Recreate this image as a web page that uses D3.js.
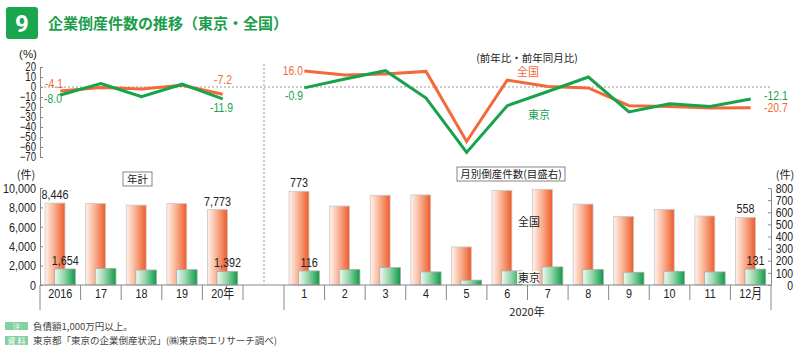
<html>
<head>
<meta charset="utf-8">
<script src="https://d3js.org/d3.v7.min.js"></script>
<style>
body { margin: 0; background: #fff; }
.num { font-family: "Liberation Sans", Arial, "Noto Sans CJK JP", sans-serif; }
.jp { font-family: "Noto Sans CJK JP", sans-serif; }
</style>
</head>
<body>
<div id="chart"></div>
<script>
// annual data
var years = ["2016", "17", "18", "19", "20年"];
var yearNational = [8446, 8405, 8235, 8383, 7773];
var yearTokyo = [1654, 1703, 1546, 1580, 1392];
var yearNationalPct = [-4.1, -0.5, -2.0, 1.8, -7.2];
var yearTokyoPct = [-8.0, 3.5, -9.8, 2.8, -11.9];

// monthly data 2020
var months = ["1", "2", "3", "4", "5", "6", "7", "8", "9", "10", "11", "12月"];
var monthNational = [773, 651, 740, 743, 314, 780, 789, 667, 565, 624, 569, 558];
var monthTokyo = [116, 127, 143, 108, 40, 116, 149, 127, 105, 113, 108, 131];
var monthNationalPct = [16.0, 12.0, 13.0, 15.6, -54.5, 6.8, 0.6, -1.0, -18.7, -19.4, -21.0, -20.7];
var monthTokyoPct = [-0.9, 8.0, 16.3, -11.0, -65.4, -18.7, -4.5, 10.0, -25.0, -16.7, -19.4, -12.1];

var pctTicks = [20, 10, 0, -10, -20, -30, -40, -50, -60, -70];
var yearTicks = [0, 2000, 4000, 6000, 8000, 10000];
var monthTicks = [0, 100, 200, 300, 400, 500, 600, 700, 800];

var green = "#17a24b", orange = "#f26a3b";
var SX = 0.8; // horizontal squeeze for the condensed number font

var svg = d3.select("#chart").append("svg")
    .attr("width", 800).attr("height", 351);

var defs = svg.append("defs");
var gr = defs.append("linearGradient").attr("id", "gradRed");
gr.append("stop").attr("offset", "0%").attr("stop-color", "#fff3ee");
gr.append("stop").attr("offset", "45%").attr("stop-color", "#f9b394");
gr.append("stop").attr("offset", "100%").attr("stop-color", "#ee5b2b");
var gg = defs.append("linearGradient").attr("id", "gradGreen");
gg.append("stop").attr("offset", "0%").attr("stop-color", "#f0f9f3");
gg.append("stop").attr("offset", "45%").attr("stop-color", "#96d6ac");
gg.append("stop").attr("offset", "100%").attr("stop-color", "#0e9a45");

// squeeze a text horizontally, keeping its anchor point
function narrow(sel) {
    sel.each(function() {
        var t = d3.select(this);
        var x = +t.attr("x") || 0;
        t.attr("x", x / SX).attr("transform", "scale(" + SX + ",1)");
    });
}

// title
svg.append("rect").attr("x", 6).attr("y", 7).attr("width", 32).attr("height", 32)
    .attr("rx", 3).attr("fill", "#1aa64f");
svg.append("text").attr("x", 22).attr("y", 32).attr("text-anchor", "middle")
    .attr("font-family", "Roboto, sans-serif").attr("font-weight", "bold")
    .attr("font-size", 24).attr("fill", "#fff").text("9");
svg.append("text").attr("class", "jp").attr("x", 48).attr("y", 29)
    .attr("font-size", 15).attr("font-weight", "bold").attr("fill", "#1a9e4b")
    .text("企業倒産件数の推移（東京・全国）");

// scales
var xYear = d3.scaleBand().domain(years).range([40, 243]);
var xMonth = d3.scaleBand().domain(months).range([284, 771]);
var yPct = d3.scaleLinear().domain([20, -70]).range([67, 157]);
var yYear = d3.scaleLinear().domain([0, 10000]).range([285, 188]);
var yMonth = d3.scaleLinear().domain([0, 800]).range([285, 188]);

function styleAxis(g, anchor, size) {
    g.attr("font-family", null).attr("font-size", null);
    g.selectAll("text").attr("class", "num").attr("font-size", size).attr("fill", "#222")
        .attr("text-anchor", anchor).call(narrow);
    g.selectAll("line, path").attr("stroke", "#888");
}

// ---- top: percent line charts ----
svg.append("text").attr("class", "num").attr("x", 28).attr("y", 58)
    .attr("text-anchor", "middle").attr("font-size", 11.5).attr("fill", "#222").text("(%)");
svg.append("text").attr("class", "jp").attr("x", 527).attr("y", 62)
    .attr("text-anchor", "middle").attr("font-size", 10.5).attr("fill", "#222")
    .text("(前年比・前年同月比)");

svg.append("g").attr("transform", "translate(40,0)")
    .call(d3.axisLeft(yPct).tickValues(pctTicks).tickSizeInner(-3).tickSizeOuter(0).tickPadding(4))
    .call(g => styleAxis(g, "end", 12));

svg.append("line").attr("x1", 40).attr("x2", 770).attr("y1", yPct(0)).attr("y2", yPct(0))
    .attr("stroke", "#999").attr("stroke-dasharray", "2,2");
svg.append("line").attr("x1", 264).attr("x2", 264).attr("y1", 64).attr("y2", 285)
    .attr("stroke", "#999").attr("stroke-dasharray", "2,2");

function drawLine(xs, domain, vals, color) {
    var line = d3.line()
        .x((d, i) => xs(domain[i]) + xs.bandwidth() / 2)
        .y(d => yPct(d));
    svg.append("path").datum(vals).attr("d", line)
        .attr("fill", "none").attr("stroke", color).attr("stroke-width", 3)
        .attr("stroke-linejoin", "miter");
}
drawLine(xYear, years, yearNationalPct, orange);
drawLine(xYear, years, yearTokyoPct, green);
drawLine(xMonth, months, monthNationalPct, orange);
drawLine(xMonth, months, monthTokyoPct, green);

function pctLabel(x, y, txt, color, anchor) {
    svg.append("text").attr("class", "num").attr("x", x).attr("y", y)
        .attr("text-anchor", anchor).attr("font-size", 13).attr("fill", color).text(txt)
        .call(narrow);
}
pctLabel(63, 88, yearNationalPct[0].toFixed(1), orange, "end");
pctLabel(62, 103, yearTokyoPct[0].toFixed(1), green, "end");
pctLabel(232, 84, yearNationalPct[4].toFixed(1), orange, "end");
pctLabel(233, 112, yearTokyoPct[4].toFixed(1), green, "end");
pctLabel(303, 75, monthNationalPct[0].toFixed(1), orange, "end");
pctLabel(303, 100, monthTokyoPct[0].toFixed(1), green, "end");
pctLabel(764, 100.5, monthTokyoPct[11].toFixed(1), green, "start");
pctLabel(764, 112, monthNationalPct[11].toFixed(1), orange, "start");
svg.append("text").attr("class", "jp").attr("x", 517).attr("y", 76)
    .attr("font-size", 11).attr("fill", orange).text("全国");
svg.append("text").attr("class", "jp").attr("x", 528).attr("y", 119)
    .attr("font-size", 11).attr("fill", green).text("東京");

// ---- bottom: bar charts ----
svg.append("text").attr("class", "jp").attr("x", 26).attr("y", 179)
    .attr("text-anchor", "middle").attr("font-size", 11).attr("fill", "#222").text("(件)");
svg.append("text").attr("class", "jp").attr("x", 785).attr("y", 179)
    .attr("text-anchor", "middle").attr("font-size", 11).attr("fill", "#222").text("(件)");

function boxLabel(x, y, w, h, txt) {
    svg.append("rect").attr("x", x).attr("y", y).attr("width", w).attr("height", h)
        .attr("fill", "#fff").attr("stroke", "#666").attr("stroke-width", 0.8);
    svg.append("text").attr("class", "jp").attr("x", x + w / 2).attr("y", y + h / 2 + 4)
        .attr("text-anchor", "middle").attr("font-size", 10.5).attr("fill", "#222").text(txt);
}
boxLabel(123, 172, 29, 14, "年計");
boxLabel(457, 167, 108, 14, "月別倒産件数(目盛右)");

svg.append("g").attr("transform", "translate(40,0)")
    .call(d3.axisLeft(yYear).tickValues(yearTicks).tickFormat(d3.format(",")).tickSizeInner(-3).tickSizeOuter(0).tickPadding(4))
    .call(g => styleAxis(g, "end", 13.5));
svg.append("g").attr("transform", "translate(771,0)")
    .call(d3.axisRight(yMonth).tickValues(monthTicks).tickSizeInner(-3).tickSizeOuter(0).tickPadding(22))
    .call(g => styleAxis(g, "end", 13));

function drawBars(xs, domain, nat, tok, ys) {
    var bw = xs.bandwidth();
    svg.append("g").selectAll("rect").data(nat).join("rect")
        .attr("x", (d, i) => xs(domain[i]) + bw * 0.125)
        .attr("width", bw * 0.49)
        .attr("y", d => ys(d)).attr("height", d => ys(0) - ys(d))
        .attr("fill", "url(#gradRed)").attr("stroke", "#c8c8c8").attr("stroke-width", 0.8);
    svg.append("g").selectAll("rect").data(tok).join("rect")
        .attr("x", (d, i) => xs(domain[i]) + bw * 0.36)
        .attr("width", bw * 0.51)
        .attr("y", d => ys(d)).attr("height", d => ys(0) - ys(d))
        .attr("fill", "url(#gradGreen)").attr("stroke", "#aaa").attr("stroke-width", 0.8);
}
drawBars(xYear, years, yearNational, yearTokyo, yYear);
drawBars(xMonth, months, monthNational, monthTokyo, yMonth);

function barLabel(xs, cat, off, y, txt) {
    svg.append("text").attr("class", "num")
        .attr("x", xs(cat) + xs.bandwidth() * off).attr("y", y - 4)
        .attr("text-anchor", "middle").attr("font-size", 13.5).attr("fill", "#222").text(txt)
        .call(narrow);
}
var fmt = d3.format(",");
barLabel(xYear, years[0], 0.37, yYear(yearNational[0]), fmt(yearNational[0]));
barLabel(xYear, years[0], 0.62, yYear(yearTokyo[0]), fmt(yearTokyo[0]));
barLabel(xYear, years[4], 0.37, yYear(yearNational[4]), fmt(yearNational[4]));
barLabel(xYear, years[4], 0.62, yYear(yearTokyo[4]), fmt(yearTokyo[4]));
barLabel(xMonth, months[0], 0.37, yMonth(monthNational[0]), fmt(monthNational[0]));
barLabel(xMonth, months[0], 0.62, yMonth(monthTokyo[0]), fmt(monthTokyo[0]));
barLabel(xMonth, months[11], 0.37, yMonth(monthNational[11]), fmt(monthNational[11]));
barLabel(xMonth, months[11], 0.62, yMonth(monthTokyo[11]), fmt(monthTokyo[11]));

svg.append("text").attr("class", "jp").attr("x", 518).attr("y", 226)
    .attr("font-size", 11).attr("fill", "#222").text("全国");
svg.append("rect").attr("x", 517).attr("y", 271).attr("width", 22).attr("height", 13)
    .attr("fill", "#fff").attr("opacity", 0.85);
svg.append("text").attr("class", "jp").attr("x", 518).attr("y", 282)
    .attr("font-size", 11).attr("fill", "#222").text("東京");

// baseline and category separators
svg.append("line").attr("x1", 40).attr("x2", 771).attr("y1", 285).attr("y2", 285)
    .attr("stroke", "#888");
function seps(xs, domain, longLast) {
    var edges = domain.map(d => xs(d)).concat([xs.range()[1]]);
    svg.append("g").selectAll("line").data(edges).join("line")
        .attr("x1", d => d).attr("x2", d => d)
        .attr("y1", 285).attr("y2", (d, i) => (i === 0 || (longLast && i === edges.length - 1)) ? 310 : 300)
        .attr("stroke", "#888");
    svg.append("g").selectAll("text").data(domain).join("text")
        .attr("class", "num")
        .attr("x", d => xs(d) + xs.bandwidth() / 2).attr("y", 298)
        .attr("text-anchor", "middle").attr("font-size", 13.5).attr("fill", "#222")
        .text(d => d)
        .call(narrow);
}
seps(xYear, years, false);
seps(xMonth, months, true);
svg.append("text").attr("class", "jp").attr("x", 527).attr("y", 316)
    .attr("text-anchor", "middle").attr("font-size", 11).attr("fill", "#222").text("2020年");

// footer notes
svg.append("rect").attr("x", 5).attr("y", 322).attr("width", 23).attr("height", 8).attr("fill", "#86cfa0");
svg.append("text").attr("class", "jp").attr("x", 16.5).attr("y", 329.5).attr("text-anchor", "middle")
    .attr("font-size", 8).attr("fill", "#fff").text("注");
svg.append("text").attr("class", "jp").attr("x", 33).attr("y", 330)
    .attr("font-size", 9.5).attr("fill", "#444").text("負債額1,000万円以上。");
svg.append("rect").attr("x", 5).attr("y", 336).attr("width", 23).attr("height", 9).attr("fill", "#86cfa0");
svg.append("text").attr("class", "jp").attr("x", 16.5).attr("y", 344).attr("text-anchor", "middle")
    .attr("font-size", 8).attr("fill", "#fff").text("資 料");
svg.append("text").attr("class", "jp").attr("x", 33).attr("y", 344)
    .attr("font-size", 9.5).attr("fill", "#444").text("東京都「東京の企業倒産状況」(㈱東京商工リサーチ調べ)");
</script>
</body>
</html>
